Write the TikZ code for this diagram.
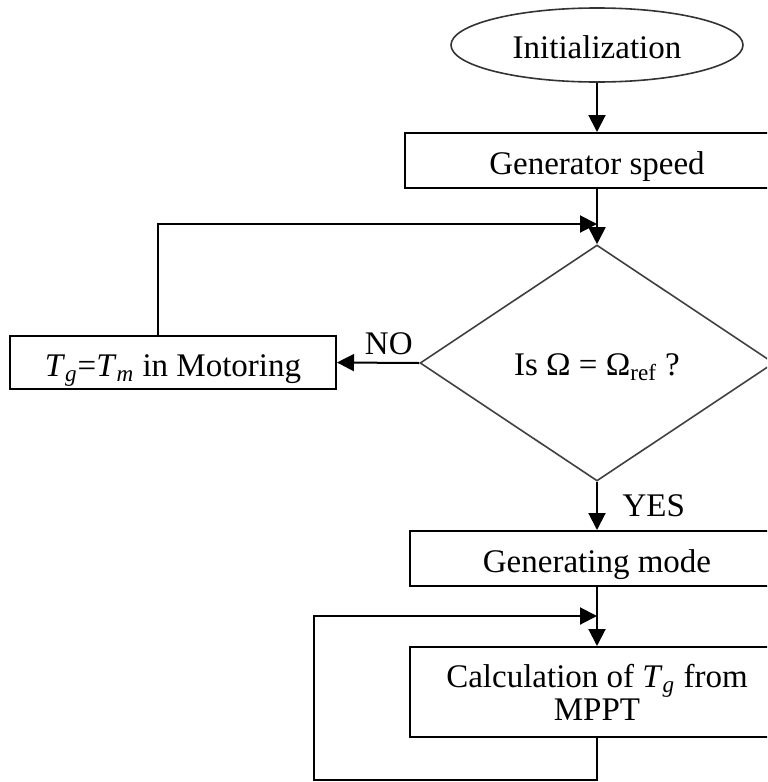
\documentclass[tikz,border=0pt]{standalone}
\usepackage{fontspec}
\setmainfont{Liberation Serif}
\usetikzlibrary{shapes.geometric,arrows.meta}
\begin{document}
\begin{tikzpicture}[x=0.5pt,y=-0.5pt,
  every node/.style={font=\fontsize{16.5}{16.5}\selectfont},
  box/.style={draw, line width=1pt, rectangle, inner sep=0pt},
  lowtext/.style={text height=14pt, text depth=0pt},
  arr/.style={line width=1pt, -{Triangle[length=8.5pt,width=8.5pt]}},
]
\useasboundingbox (0,0) rectangle (767,782);
\clip (0,0) rectangle (767,782);
\node[draw, ellipse, line width=0.8pt, draw=black!80, minimum width=146pt, minimum height=37pt, inner sep=0pt, text height=13pt, text depth=0pt] (init) at (597,45) {Initialization};
\node[box, lowtext, minimum width=192pt, minimum height=27.5pt] (gen) at (597,160.5) {Generator speed};
\node[draw, diamond, line width=0.8pt, draw=black!75, minimum width=177pt, minimum height=118pt, inner sep=0pt, text height=12pt, text depth=0pt] (dia) at (597,363) {Is Ω = Ω\textsubscript{ref} ?};
\node[box, lowtext, minimum width=163pt, minimum height=26.5pt] (motor) at (173,362.5) {\textit{T}\textsubscript{\textit{g}}=\textit{T}\textsubscript{\textit{m}} in Motoring};
\node[box, lowtext, minimum width=187pt, minimum height=27.5pt] (genmode) at (597,558.5) {Generating mode};
\node[box, minimum width=187pt, minimum height=45pt, align=center] (calc) at (597,692) {\raisebox{-1.5pt}{Calculation of \textit{T}\textsubscript{\textit{g}} from}\\\raisebox{-1.5pt}{MPPT}};
\coordinate (j1) at (597,224);
\coordinate (j2) at (597,616);
\draw[arr] (init) -- (gen);
\draw[arr] (gen) -- (dia);
\draw[arr] (dia.west) -- node[pos=0.37, above] {NO} (motor.east);
\draw[arr] ([xshift=-7.5pt]motor.north) |- (j1);
\draw[arr] (dia.south) -- node[right, xshift=9pt] {YES} (genmode.north);
\draw[arr] (genmode) -- (calc);
\draw[arr] (calc.south) |- (314,780) |- (j2);
\end{tikzpicture}
\end{document}
